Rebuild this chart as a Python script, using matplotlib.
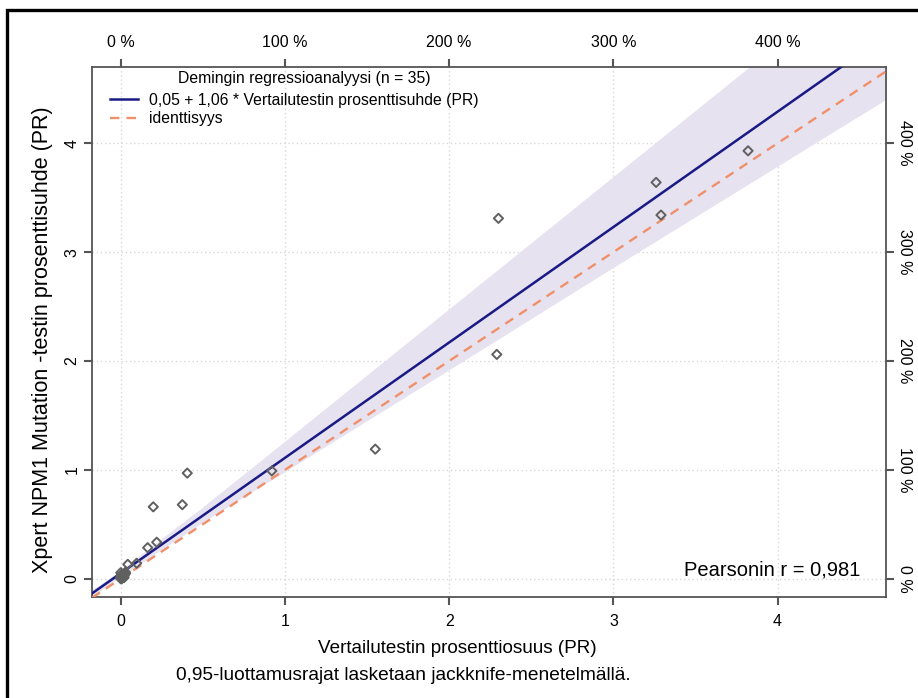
import numpy as np
import matplotlib
matplotlib.use("Agg")
import matplotlib.pyplot as plt
from matplotlib.patches import Rectangle
from matplotlib.lines import Line2D
from matplotlib.ticker import FuncFormatter

plt.rcParams['font.family'] = ['Liberation Sans', 'DejaVu Sans']

# mittaukset (luettu kuvasta)
ref_x = [3.26, 3.29, 3.82, 2.30, 2.29, 1.55, 0.92, 0.405, 0.375, 0.198, 0.164, 0.219,
         0.043, 0.097, 0.0, 0.0, 0.005, 0.01, 0.015, 0.02, 0.025, 0.03, 0.0, 0.005,
         0.01, 0.015, 0.02, 0.008, 0.012, 0.003, 0.018, 0.022, 0.006, 0.028, 0.001]
xpert_y = [3.64, 3.34, 3.93, 3.31, 2.06, 1.19, 0.99, 0.97, 0.68, 0.66, 0.285, 0.335,
           0.132, 0.142, 0.055, 0.01, 0.02, 0.03, 0.04, 0.035, 0.045, 0.05, 0.0, 0.005,
           0.015, 0.025, 0.01, 0.04, 0.02, 0.03, 0.015, 0.03, 0.0, 0.06, 0.02]

# Deming-regressio
intercept = 0.05
slope = 1.06

# luottamusalue (luettu kuvasta)
band_x = [-0.2, 0.0, 0.5, 1.0, 2.0, 3.0, 4.0, 4.7]
band_hi = [-0.13, 0.08, 0.66, 1.265, 2.48, 3.695, 4.91, 5.76]
band_lo = [-0.19, 0.02, 0.52, 0.985, 1.92, 2.86, 3.79, 4.44]

xticks = [0, 1, 2, 3, 4]
pct_ticks = [0, 100, 200, 300, 400]

fig = plt.figure(figsize=(9.18, 6.98), dpi=100)
ax = fig.add_axes([92/918, 1-597/698, (886-92)/918, (597-67)/698])

xlo, xhi = -0.175, 4.66
ylo, yhi = -0.168, 4.70

ax.fill_between(band_x, band_lo, band_hi, color='#e7e2f0', lw=0, zorder=1)
xx = np.array([xlo, xhi])
ax.plot(xx, intercept + slope*xx, color='#1a1a86', lw=1.8, zorder=3)
ax.plot(xx, xx, color='#f0906a', lw=1.7, ls=(0, (4, 3)), zorder=3)
ax.scatter(ref_x, xpert_y, marker='D', s=22, facecolors='none', edgecolors='#606060',
           linewidths=1.4, zorder=4)

ax.set_xlim(xlo, xhi)
ax.set_ylim(ylo, yhi)
ax.set_xticks(xticks)
ax.set_yticks(xticks)
ax.grid(True, color='#d8d8d8', ls=(0, (1, 2)), lw=1)
ax.set_axisbelow(True)
for s in ax.spines.values():
    s.set_color('#555555')
    s.set_linewidth(1.3)

tick_kw = dict(colors='#555555', labelcolor='black', labelsize=11.5, length=6, width=1.5)
ax.tick_params(axis='x', pad=6, **tick_kw)
ax.tick_params(axis='y', pad=3, **tick_kw)
for lab in ax.get_yticklabels():
    lab.set_rotation(90)
    lab.set_va('center')

fmt = FuncFormatter(lambda v, p: '%d %%' % round(v))
top = ax.secondary_xaxis('top', functions=(lambda v: v*100, lambda v: v/100))
top.set_xticks(pct_ticks)
top.xaxis.set_major_formatter(fmt)
top.tick_params(pad=6, **tick_kw)
top.spines['top'].set_visible(False)
right = ax.secondary_yaxis('right', functions=(lambda v: v*100, lambda v: v/100))
right.set_yticks(pct_ticks)
right.yaxis.set_major_formatter(fmt)
right.tick_params(pad=2, **tick_kw)
for lab in right.get_yticklabels():
    lab.set_rotation(-90)
    lab.set_va('center')
right.spines['right'].set_visible(False)

ax.set_xlabel('Vertailutestin prosenttiosuus (PR)', fontsize=13.6, labelpad=8)
ax.xaxis.label.set_x((457-92)/794)
ax.set_ylabel('Xpert NPM1 Mutation -testin prosenttisuhde (PR)', fontsize=15.5, labelpad=8)
ax.yaxis.label.set_y((597-340)/530)

# legenda
ax.text((304-92)/794, (597-78)/530, 'Demingin regressioanalyysi (n = 35)',
        transform=ax.transAxes, ha='center', va='center', fontsize=11.3)
handles = [Line2D([], [], color='#1a1a86', lw=1.8),
           Line2D([], [], color='#f0906a', lw=1.7, ls=(0, (4, 3)))]
labels = ['0,05 + 1,06 * Vertailutestin prosenttisuhde (PR)', 'identtisyys']
leg = ax.legend(handles, labels, loc='center left',
                bbox_to_anchor=((110-92)/794, (597-109.5)/530), frameon=False,
                prop={'size': 11.3}, handlelength=1.8, borderpad=0, borderaxespad=0,
                labelspacing=0.25, handletextpad=0.7)

ax.text((860-92)/794, (597-570)/530, 'Pearsonin r = 0,981', transform=ax.transAxes,
        ha='right', va='center', fontsize=14.5)

fig.text(403/918, 1-675/698, '0,95-luottamusrajat lasketaan jackknife-menetelmällä.',
         ha='center', va='center', fontsize=13.8)

fig.add_artist(Rectangle((6.5/918, -0.1), 1.2, 1.1 - 10.5/698, transform=fig.transFigure,
                         fill=False, ec='black', lw=2.4))

fig.savefig('out.png', dpi=100)
